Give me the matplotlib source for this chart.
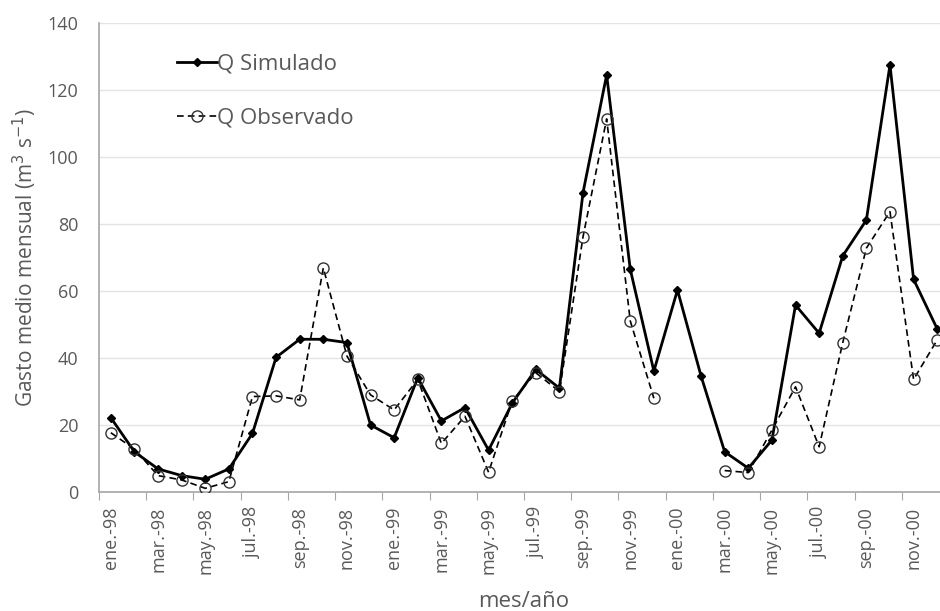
import matplotlib
matplotlib.use("Agg")
import matplotlib.pyplot as plt
import numpy as np

months = ['ene.', 'feb.', 'mar.', 'abr.', 'may.', 'jun.', 'jul.', 'ago.', 'sep.', 'oct.', 'nov.', 'dic.']
years = ['98', '99', '00']
categories = [f"{m}-{y}" for y in years for m in months]

q_simulado = [22.1, 11.9, 6.8, 4.8, 3.7, 6.8, 17.4, 40.1, 45.5, 45.5, 44.5, 19.9,
              16.1, 34.0, 21.1, 25.1, 12.4, 26.4, 36.5, 30.9, 89.3, 124.4, 66.4, 36.0,
              60.2, 34.5, 11.9, 7.0, 15.4, 55.7, 47.3, 70.4, 81.1, 127.4, 63.4, 48.6]
q_observado = [17.6, 12.7, 4.8, 3.5, 1.0, 3.0, 28.4, 28.6, 27.4, 66.8, 40.5, 28.9,
               24.4, 33.5, 14.4, 22.5, 5.8, 27.1, 35.5, 29.9, 76.1, 111.3, 51.0, 27.9,
               np.nan, np.nan, 6.3, 5.7, 18.4, 31.3, 13.4, 44.5, 72.7, 83.6, 33.5, 45.3]

plt.rcParams['font.family'] = ['Open Sans', 'DejaVu Sans']
gray = '#595959'

fig = plt.figure(figsize=(9.4, 6.11), dpi=100)
ax = fig.add_axes([99/940, 0.1953, 850/940, 0.7675])

x = np.arange(len(categories))
ax.plot(x, q_simulado, color='black', lw=2.0, marker='D', ms=4, mfc='black', mec='black',
        label='Q Simulado', zorder=3)
ax.plot(x, q_observado, color='black', lw=1.2, ls=(0, (4, 2.5)), marker='o', ms=8,
        mfc='none', mec='#333333', mew=1.0, label='Q Observado', zorder=4)

ax.set_xlim(-0.5, len(categories) - 0.5)
ax.set_ylim(0, 140)
ax.set_yticks(np.arange(0, 141, 20))
ax.yaxis.grid(True, color='#e3e3e3', lw=1.0)
ax.set_axisbelow(True)

ax.set_xticks(np.arange(-0.5, len(categories), 2))
ax.set_xticklabels([])
ax.set_xticks(np.arange(0, len(categories), 2), minor=True)
ax.set_xticklabels(categories[::2], minor=True, rotation=90, fontsize=13, color=gray)
ax.tick_params(axis='x', which='major', length=6, color='#a6a6a6', direction='out')
ax.tick_params(axis='x', which='minor', length=0, pad=11)
ax.tick_params(axis='y', length=0, labelsize=13, labelcolor=gray, pad=15)

for s in ['top', 'right']:
    ax.spines[s].set_visible(False)
for s in ['left', 'bottom']:
    ax.spines[s].set_color('#a6a6a6')
    ax.spines[s].set_linewidth(1.2)

ax.set_ylabel('Gasto medio mensual (m$^3$ s$^{-1}$)', fontsize=15, color=gray, labelpad=6)
ax.set_xlabel('mes/año', fontsize=16, color=gray, labelpad=12)

leg = ax.legend(loc='upper left', bbox_to_anchor=(0.068, 0.977), frameon=False, fontsize=16,
                labelspacing=1.5, handlelength=1.8, handletextpad=0.0, labelcolor=gray)

fig.savefig('out.png', dpi=100)
